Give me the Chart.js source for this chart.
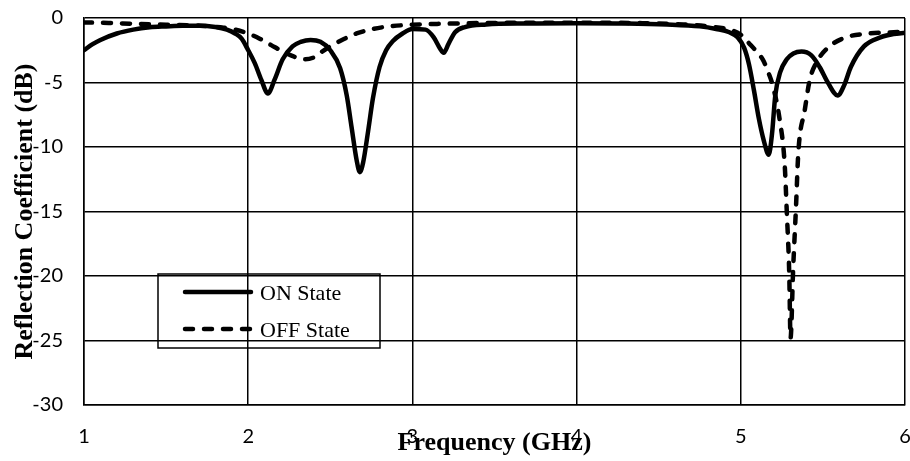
<!DOCTYPE html>
<html>
<head>
<meta charset="utf-8">
<script src="https://cdn.jsdelivr.net/npm/chart.js@4.4.1/dist/chart.umd.min.js"></script>
<style>
  html, body { margin: 0; padding: 0; background: #fff; }
  #wrap { width: 910px; height: 461px; }
</style>
</head>
<body>
<div id="wrap"><canvas id="s11Chart"></canvas></div>
<script>
// Reflection coefficient vs frequency, ON / OFF switch states

const freqOn = [1.00, 1.05, 1.10, 1.20, 1.30, 1.40, 1.50, 1.60, 1.70, 1.80, 1.87, 1.92, 1.96, 2.00, 2.04, 2.08, 2.12, 2.16, 2.21, 2.27, 2.32, 2.38, 2.44, 2.50, 2.56, 2.60, 2.63, 2.66, 2.68, 2.70, 2.73, 2.76, 2.80, 2.84, 2.88, 2.94, 3.00, 3.08, 3.13, 3.17, 3.19, 3.22, 3.26, 3.32, 3.45, 3.70, 4.00, 4.30, 4.55, 4.75, 4.85, 4.93, 4.98, 5.02, 5.05, 5.08, 5.11, 5.14, 5.17, 5.19, 5.21, 5.24, 5.28, 5.32, 5.37, 5.43, 5.48, 5.53, 5.59, 5.63, 5.67, 5.75, 5.85, 5.93, 6.00];
const lossOn = [-2.5, -2.05, -1.7, -1.2, -0.9, -0.72, -0.65, -0.6, -0.6, -0.7, -0.9, -1.2, -1.6, -2.5, -3.5, -4.8, -5.85, -4.8, -3.2, -2.2, -1.85, -1.7, -1.85, -2.5, -3.9, -6.0, -8.5, -11.0, -11.95, -11.2, -8.8, -6.2, -3.8, -2.5, -1.8, -1.2, -0.85, -0.9, -1.5, -2.4, -2.7, -2.0, -1.1, -0.7, -0.5, -0.42, -0.4, -0.42, -0.5, -0.65, -0.85, -1.1, -1.5, -2.3, -3.6, -5.6, -7.8, -9.5, -10.6, -9.0, -6.0, -4.2, -3.2, -2.75, -2.6, -2.9, -3.8, -5.0, -6.0, -5.2, -3.8, -2.2, -1.5, -1.25, -1.15];

const freqOff = [1.00, 1.15, 1.30, 1.50, 1.71, 1.85, 1.92, 2.00, 2.07, 2.14, 2.21, 2.28, 2.345, 2.40, 2.45, 2.50, 2.58, 2.66, 2.76, 2.86, 3.00, 3.17, 3.50, 4.00, 4.40, 4.65, 4.80, 4.93, 5.00, 5.06, 5.135, 5.17, 5.196, 5.237, 5.267, 5.28, 5.295, 5.303, 5.319, 5.336, 5.35, 5.39, 5.42, 5.47, 5.54, 5.64, 5.78, 5.90, 6.00];
const lossOff = [-0.35, -0.38, -0.45, -0.52, -0.6, -0.75, -0.9, -1.2, -1.6, -2.1, -2.6, -3.0, -3.2, -3.05, -2.6, -2.2, -1.65, -1.2, -0.85, -0.65, -0.52, -0.45, -0.38, -0.36, -0.4, -0.5, -0.65, -0.9, -1.3, -2.1, -3.25, -4.3, -5.3, -7.9, -11.3, -15.0, -19.8, -24.8, -19.4, -14.7, -10.5, -7.1, -4.8, -3.25, -2.2, -1.5, -1.2, -1.12, -1.05];

const seriesNames = ['ON State', 'OFF State'];
const xTicks = [1, 2, 3, 4, 5, 6];
const yTicks = [0, -5, -10, -15, -20, -25, -30];
const xTitle = 'Frequency (GHz)';
const yTitle = 'Reflection Coefficient (dB)';

const toPoints = (xs, ys) => xs.map((x, i) => ({ x: x, y: ys[i] }));

const offDash = [8, 11];

// axis titles and the boxed legend, placed where the original has them
const overlayPlugin = {
  id: 'overlay',
  afterDraw(chart) {
    const ctx = chart.ctx;
    const area = chart.chartArea;
    ctx.save();
    ctx.fillStyle = '#000';
    ctx.font = 'bold 26px "Liberation Serif", "Times New Roman", serif';
    ctx.textAlign = 'center';
    ctx.textBaseline = 'alphabetic';
    ctx.fillText(xTitle, (area.left + area.right) / 2, 450);

    ctx.save();
    ctx.translate(32, (area.top + area.bottom) / 2);
    ctx.rotate(-Math.PI / 2);
    ctx.fillText(yTitle, 0, 0);
    ctx.restore();

    // legend box
    ctx.strokeStyle = '#000';
    ctx.lineWidth = 1.5;
    ctx.strokeRect(158, 274, 222, 74);

    const rows = [292, 329];
    rows.forEach((y, i) => {
      ctx.beginPath();
      ctx.lineWidth = 4.5;
      ctx.lineCap = 'round';
      ctx.setLineDash(i === 0 ? [] : offDash);
      ctx.moveTo(185, y);
      ctx.lineTo(251, y);
      ctx.stroke();
      ctx.setLineDash([]);
      ctx.font = '22px "Liberation Serif", "Times New Roman", serif';
      ctx.textAlign = 'left';
      ctx.fillText(seriesNames[i], 260, y + 8);
    });
    ctx.restore();
  }
};

const ctx = document.getElementById('s11Chart').getContext('2d');
new Chart(ctx, {
  type: 'line',
  data: {
    datasets: [{
      label: seriesNames[0],
      data: toPoints(freqOn, lossOn),
      borderColor: '#000',
      borderWidth: 4.5,
      pointRadius: 0,
      cubicInterpolationMode: 'monotone',
      borderCapStyle: 'round',
      borderJoinStyle: 'round',
    }, {
      label: seriesNames[1],
      data: toPoints(freqOff, lossOff),
      borderColor: '#000',
      borderWidth: 4.5,
      borderDash: offDash,
      borderCapStyle: 'round',
      borderJoinStyle: 'round',
      pointRadius: 0,
      cubicInterpolationMode: 'monotone',
    }],
  },
  plugins: [overlayPlugin],
  options: {
    responsive: true,
    maintainAspectRatio: false,
    animation: false,
    layout: { padding: { left: 0, right: 5, top: 18, bottom: 0 } },
    plugins: {
      legend: { display: false },
      tooltip: { enabled: false },
    },
    scales: {
      x: {
        type: 'linear',
        min: 1,
        max: 6,
        afterBuildTicks: (scale) => { scale.ticks = xTicks.map((v) => ({ value: v })); },
        afterFit: (scale) => {
          scale.height = 56;
          scale.paddingLeft = 0;
          scale.paddingRight = 0;
        },
        ticks: {
          color: '#000',
          font: { family: 'Lato', size: 20 },
          padding: 20,
          maxRotation: 0,
        },
        grid: { color: '#000', lineWidth: 1.5, drawTicks: false },
        border: { color: '#000', width: 1.5 },
      },
      y: {
        min: -30,
        max: 0,
        afterBuildTicks: (scale) => { scale.ticks = yTicks.map((v) => ({ value: v })); },
        afterFit: (scale) => {
          scale.width = 84;
          scale.paddingTop = 0;
          scale.paddingBottom = 0;
        },
        ticks: {
          color: '#000',
          font: { family: 'Lato', size: 20 },
          padding: 21,
        },
        grid: { color: '#000', lineWidth: 1.5, drawTicks: false },
        border: { color: '#000', width: 1.5 },
      },
    },
  },
});
</script>
</body>
</html>
